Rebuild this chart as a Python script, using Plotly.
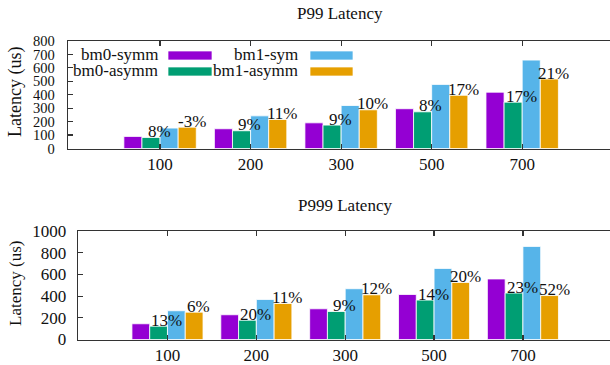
import plotly.graph_objects as go

# ---- data ----
categories = ["100", "200", "300", "500", "700"]
series_names = ["bm0-symm", "bm0-asymm", "bm1-sym", "bm1-asymm"]
colors = ["#9400D3", "#009E73", "#56B4E9", "#E69F00"]

p99_bm0_symm = [90, 147, 191, 296, 419]
p99_bm0_asymm = [82, 132, 174, 273, 345]
p99_bm1_sym = [152, 243, 320, 477, 658]
p99_bm1_asymm = [159, 216, 288, 396, 517]
p99_asymm_gain_bm0 = ["8%", "9%", "9%", "8%", "17%"]
p99_asymm_gain_bm1 = ["-3%", "11%", "10%", "17%", "21%"]

p999_bm0_symm = [145, 228, 283, 415, 558]
p999_bm0_asymm = [123, 178, 258, 363, 428]
p999_bm1_sym = [265, 369, 468, 655, 858]
p999_bm1_asymm = [252, 332, 412, 526, 405]
p999_asymm_gain_bm0 = ["13%", "20%", "9%", "14%", "23%"]
p999_asymm_gain_bm1 = ["6%", "11%", "12%", "20%", "52%"]

W, H = 610, 365
FONT = "Liberation Serif, Times New Roman, DejaVu Serif, serif"
LINE = "#333333"
TXT = "#111111"

fig = go.Figure()

p99 = [p99_bm0_symm, p99_bm0_asymm, p99_bm1_sym, p99_bm1_asymm]
p999 = [p999_bm0_symm, p999_bm0_asymm, p999_bm1_sym, p999_bm1_asymm]

for vals_set, xa, ya in [(p99, "x", "y"), (p999, "x2", "y2")]:
    for name, col, vals in zip(series_names, colors, vals_set):
        fig.add_trace(go.Bar(
            x=categories, y=vals, name=name, xaxis=xa, yaxis=ya,
            marker=dict(color=col, line=dict(color="rgba(255,255,255,0.8)", width=1)),
            showlegend=False, hoverinfo="skip",
        ))

def px_x(p):
    return p / W

def px_y(p):
    return 1 - p / H

annotations = []
shapes = []

# percentage labels
for vals_set, g0, g1, xr, yr in [
    (p99, p99_asymm_gain_bm0, p99_asymm_gain_bm1, "x", "y"),
    (p999, p999_asymm_gain_bm0, p999_asymm_gain_bm1, "x2", "y2"),
]:
    for i, cat in enumerate(categories):
        annotations.append(dict(x=i - 0.1 + 0.09, y=vals_set[1][i], xref=xr, yref=yr,
                                text=g0[i], showarrow=False, yanchor="middle", yshift=6,
                                font=dict(family=FONT, size=17, color=TXT)))
        annotations.append(dict(x=i + 0.3 + 0.05, y=vals_set[3][i], xref=xr, yref=yr,
                                text=g1[i], showarrow=False, yanchor="middle", yshift=6,
                                font=dict(family=FONT, size=17, color=TXT)))

# titles
annotations.append(dict(x=px_x(340), y=px_y(14), xref="paper", yref="paper", text="P99 Latency",
                        showarrow=False, xanchor="center", yanchor="middle",
                        font=dict(family=FONT, size=17, color=TXT)))
annotations.append(dict(x=px_x(344.5), y=px_y(205), xref="paper", yref="paper", text="P999 Latency",
                        showarrow=False, xanchor="center", yanchor="middle",
                        font=dict(family=FONT, size=17, color=TXT)))
# y titles
annotations.append(dict(x=px_x(15), y=px_y(92), xref="paper", yref="paper", text="Latency (us)",
                        showarrow=False, textangle=-90, xanchor="center", yanchor="middle",
                        font=dict(family=FONT, size=18, color=TXT)))
annotations.append(dict(x=px_x(15), y=px_y(284), xref="paper", yref="paper", text="Latency (us)",
                        showarrow=False, textangle=-90, xanchor="center", yanchor="middle",
                        font=dict(family=FONT, size=17, color=TXT)))

# manual legend (text then swatch), inside top plot
leg_text_right = [159, 159, 299, 299]
leg_swatch_x = [(168, 212), (168, 212), (310, 353), (310, 353)]
leg_row_y = [55.5, 71.5, 55.5, 71.5]
for name, col, tr, (sx0, sx1), ry in zip(series_names, colors, leg_text_right, leg_swatch_x, leg_row_y):
    annotations.append(dict(x=px_x(tr + 1), y=px_y(ry - 1), xref="paper", yref="paper", text=name,
                            showarrow=False, xanchor="right", yanchor="middle",
                            font=dict(family=FONT, size=17, color=TXT)))
    shapes.append(dict(type="rect", xref="paper", yref="paper",
                       x0=px_x(sx0), x1=px_x(sx1), y0=px_y(ry + 4.5), y1=px_y(ry - 4.5),
                       fillcolor=col, line=dict(color="rgba(255,255,255,0.7)", width=1)))

axis_common = dict(showgrid=False, zeroline=False, showline=True, linecolor=LINE, linewidth=1.3,
                   ticks="inside", tickcolor=LINE, ticklen=5, tickwidth=1.2, automargin=False)
right_common = dict(showticklabels=False, showgrid=False, zeroline=False, showline=False,
                    ticks="inside", tickcolor=LINE, ticklen=5, tickwidth=1.2, automargin=False)

fig.update_layout(
    width=W, height=H,
    margin=dict(l=0, r=0, t=0, b=0, autoexpand=False),
    paper_bgcolor="white", plot_bgcolor="white",
    barmode="group", bargap=0.2, bargroupgap=0,
    showlegend=False, hovermode=False,
    font=dict(family=FONT, size=17, color=TXT),
    xaxis=dict(domain=[px_x(68), 1], range=[-1.017, 4.97], anchor="y", mirror="ticks",
               type="category", ticklabelstandoff=0,
               tickfont=dict(family=FONT, size=17, color=TXT), **axis_common),
    yaxis=dict(domain=[px_y(148.5), px_y(41)], range=[0, 800], dtick=100, anchor="x",
               ticklabelstandoff=9, tickfont=dict(family=FONT, size=14.5, color=TXT),
               **axis_common),
    yaxis3=dict(overlaying="y", side="right", anchor="x", range=[0, 800], dtick=100, **right_common),
    xaxis2=dict(domain=[px_x(78), 1], range=[-1.007, 4.98], anchor="y2", mirror="ticks",
                type="category", ticklabelstandoff=0,
                tickfont=dict(family=FONT, size=17, color=TXT), **axis_common),
    yaxis2=dict(domain=[px_y(339.5), px_y(231)], range=[0, 1000], dtick=200, anchor="x2",
                ticklabelstandoff=7, tickfont=dict(family=FONT, size=17, color=TXT),
                **axis_common),
    yaxis4=dict(overlaying="y2", side="right", anchor="x2", range=[0, 1000], dtick=200, **right_common),
    annotations=annotations,
    shapes=shapes,
)

fig.write_html(
    "out.html",
    config={"displayModeBar": False, "staticPlot": True},
    post_script="document.body.style.margin='0px';document.body.style.overflow='hidden';",
)
